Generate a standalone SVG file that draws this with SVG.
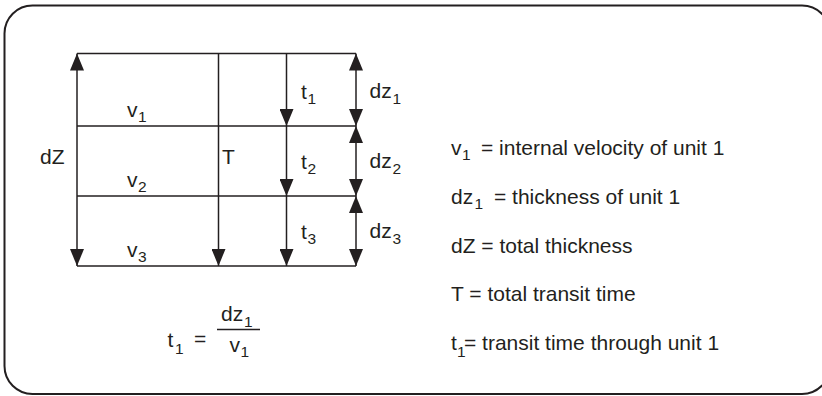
<svg xmlns="http://www.w3.org/2000/svg" width="822" height="396" viewBox="0 0 822 396">
<defs>
<style>
.ln{stroke:#231f20;stroke-width:1.5;fill:none}
.fr{stroke:#231f20;stroke-width:2;fill:#fff}
text{font-family:"Liberation Sans",Arial,Helvetica,sans-serif;font-size:21px;fill:#231f20}
.sub{font-size:15.5px}
.ar{marker-end:url(#ah)}
.dbl{marker-start:url(#ah);marker-end:url(#ah)}
</style>
<marker id="ah" markerUnits="userSpaceOnUse" markerWidth="17" markerHeight="14" refX="17" refY="7" orient="auto-start-reverse" viewBox="0 0 17 14">
<path d="M0,0 L17,7 L0,14 z" fill="#231f20"/>
</marker>
</defs>
<rect x="0" y="0" width="822" height="396" fill="#fff"/>
<g id="frame">
<rect class="fr" x="4.5" y="5.5" width="825.5" height="388.5" rx="28" ry="28"/>
</g>
<g id="grid">
<line class="ln" x1="77" y1="53.5" x2="356" y2="53.5"/>
<line class="ln" x1="77" y1="126" x2="356" y2="126"/>
<line class="ln" x1="77" y1="196" x2="356" y2="196"/>
<line class="ln" x1="77" y1="266" x2="356" y2="266"/>
</g>
<g id="connectors">
<line class="ln dbl" x1="77" y1="53.5" x2="77" y2="266"/>
<line class="ln ar" x1="218.5" y1="53.5" x2="218.5" y2="266"/>
<line class="ln ar" x1="286.5" y1="53.5" x2="286.5" y2="126"/>
<line class="ln ar" x1="286.5" y1="126" x2="286.5" y2="196"/>
<line class="ln ar" x1="286.5" y1="196" x2="286.5" y2="266"/>
<line class="ln dbl" x1="356" y1="53.5" x2="356" y2="126"/>
<line class="ln dbl" x1="356" y1="126" x2="356" y2="196"/>
<line class="ln dbl" x1="356" y1="196" x2="356" y2="266"/>
</g>
<g id="labels">
<text x="40" y="164">dZ</text>
<text x="222" y="164">T</text>
<text y="117"><tspan x="127">v</tspan><tspan class="sub" x="138" y="122">1</tspan></text>
<text y="187"><tspan x="127">v</tspan><tspan class="sub" x="138" y="192">2</tspan></text>
<text y="257"><tspan x="127">v</tspan><tspan class="sub" x="138" y="262">3</tspan></text>
<text y="99"><tspan x="301">t</tspan><tspan class="sub" x="307.5" y="103.5">1</tspan></text>
<text y="169"><tspan x="301">t</tspan><tspan class="sub" x="307.5" y="173.5">2</tspan></text>
<text y="239"><tspan x="301">t</tspan><tspan class="sub" x="307.5" y="243.5">3</tspan></text>
<text y="98"><tspan x="369.5">dz</tspan><tspan class="sub" x="392.5" y="103.5">1</tspan></text>
<text y="168"><tspan x="369.5">dz</tspan><tspan class="sub" x="392.5" y="173.5">2</tspan></text>
<text y="238"><tspan x="369.5">dz</tspan><tspan class="sub" x="392.5" y="243.5">3</tspan></text>
</g>
<g id="formula">
<text y="347"><tspan x="167.5">t</tspan><tspan class="sub" x="175" y="354">1</tspan><tspan x="194" y="346">=</tspan></text>
<line class="ln" x1="217" y1="329.5" x2="260" y2="329.5"/>
<text y="321"><tspan x="221">dz</tspan><tspan class="sub" x="244" y="327">1</tspan></text>
<text y="351.5"><tspan x="229.5">v</tspan><tspan class="sub" x="240.5" y="357">1</tspan></text>
</g>
<g id="legend">
<text y="154.5"><tspan x="451">v</tspan><tspan class="sub" x="462" y="160">1</tspan><tspan x="481" y="154.5">= internal velocity of unit 1</tspan></text>
<text y="203.5"><tspan x="451">dz</tspan><tspan class="sub" x="474.5" y="208.5">1</tspan><tspan x="494" y="203.5">= thickness of unit 1</tspan></text>
<text x="451" y="252.5">dZ = total thickness</text>
<text x="451" y="301">T = total transit time</text>
<text y="350"><tspan x="451">t</tspan><tspan class="sub" x="457" y="357">1</tspan><tspan x="464" y="350">= transit time through unit 1</tspan></text>
</g>
</svg>
